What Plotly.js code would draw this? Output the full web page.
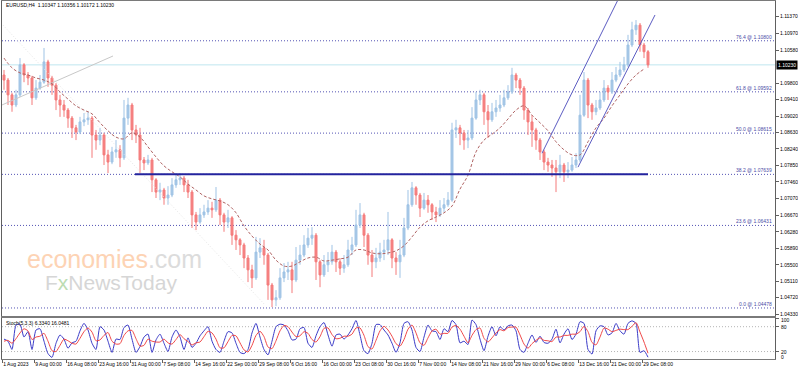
<!DOCTYPE html>
<html><head><meta charset="utf-8">
<script src="https://cdn.plot.ly/plotly-3.0.1.min.js"></script>
<style>html,body{margin:0;padding:0;background:#fff;}#chart{width:798px;height:371px;}</style>
</head><body><div id="chart"></div>
<script>
// EURUSD H4 (each candle here aggregates 4 H4 bars), 1 Aug - 29 Dec 2023
const openP = [
1.0999,1.0987,1.0952,1.0928,1.0952,1.1023,1.0999,1.0992,1.0945,1.0968,
1.0982,1.1030,1.0992,1.0975,1.0940,1.0928,1.0916,1.0897,1.0874,1.0864,
1.0888,1.0893,1.0897,1.0857,1.0845,1.0857,1.0810,1.0793,1.0817,1.0822,
1.0803,1.0897,1.0928,1.0869,1.0857,1.0798,1.0791,1.0798,1.0751,1.0722,
1.0727,1.0708,1.0715,1.0739,1.0751,1.0755,1.0739,1.0722,1.0668,1.0651,
1.0668,1.0675,1.0684,1.0680,1.0703,1.0668,1.0651,1.0661,1.0620,1.0609,
1.0597,1.0566,1.0538,1.0519,1.0580,1.0590,1.0573,1.0502,1.0467,1.0472,
1.0519,1.0533,1.0538,1.0514,1.0561,1.0573,1.0597,1.0613,1.0620,1.0557,
1.0526,1.0550,1.0557,1.0580,1.0557,1.0542,1.0550,1.0585,1.0597,1.0644,
1.0668,1.0620,1.0573,1.0557,1.0566,1.0580,1.0585,1.0609,1.0566,1.0557,
1.0573,1.0637,1.0692,1.0732,1.0715,1.0684,1.0703,1.0692,1.0675,1.0668,
1.0684,1.0692,1.0703,1.0869,1.0874,1.0862,1.0845,1.0850,1.0897,1.0940,
1.0952,1.0912,1.0893,1.0912,1.0921,1.0928,1.0945,1.0959,1.0999,1.0987,
1.0968,1.0916,1.0888,1.0869,1.0845,1.0817,1.0793,1.0786,1.0779,1.0770,
1.0786,1.0770,1.0774,1.0786,1.0798,1.0904,1.0987,1.0928,1.0912,1.0921,
1.0940,1.0968,1.0959,1.0987,1.0999,1.1011,1.1023,1.1070,1.1106,1.1117,
1.1070,1.1054];
const highP = [
1.1011,1.0992,1.0957,1.0964,1.1039,1.1027,1.1006,1.0997,1.0987,1.0999,
1.1063,1.1035,1.0997,1.0980,1.0952,1.0940,1.0921,1.0902,1.0881,1.0900,
1.0909,1.0912,1.0902,1.0869,1.0874,1.0862,1.0822,1.0829,1.0845,1.0833,
1.0940,1.0945,1.0933,1.0881,1.0874,1.0805,1.0810,1.0803,1.0755,1.0744,
1.0732,1.0736,1.0755,1.0767,1.0767,1.0760,1.0751,1.0727,1.0675,1.0684,
1.0692,1.0703,1.0699,1.0734,1.0708,1.0673,1.0680,1.0665,1.0632,1.0613,
1.0602,1.0573,1.0550,1.0616,1.0613,1.0609,1.0578,1.0507,1.0490,1.0542,
1.0554,1.0557,1.0557,1.0592,1.0597,1.0620,1.0637,1.0639,1.0625,1.0561,
1.0573,1.0580,1.0597,1.0585,1.0566,1.0573,1.0609,1.0616,1.0680,1.0696,
1.0673,1.0625,1.0585,1.0590,1.0602,1.0609,1.0675,1.0613,1.0580,1.0609,
1.0661,1.0727,1.0746,1.0736,1.0720,1.0720,1.0715,1.0696,1.0687,1.0703,
1.0708,1.0722,1.0886,1.0893,1.0881,1.0869,1.0869,1.0923,1.0959,1.0964,
1.0957,1.0928,1.0933,1.0940,1.0952,1.0964,1.0975,1.1016,1.1004,1.0992,
1.0973,1.0921,1.0904,1.0874,1.0850,1.0822,1.0803,1.0798,1.0798,1.0810,
1.0791,1.0793,1.0805,1.0814,1.0952,1.1006,1.0992,1.0933,1.0940,1.0959,
1.0987,1.0975,1.1006,1.1018,1.1030,1.1042,1.1094,1.1125,1.1129,1.1122,
1.1075,1.1058];
const lowP = [
1.0964,1.0928,1.0912,1.0923,1.0947,1.0982,1.0975,1.0928,1.0940,1.0964,
1.0978,1.0971,1.0952,1.0916,1.0900,1.0900,1.0874,1.0850,1.0845,1.0859,
1.0878,1.0881,1.0803,1.0822,1.0833,1.0786,1.0767,1.0788,1.0803,1.0781,
1.0798,1.0881,1.0845,1.0838,1.0767,1.0774,1.0786,1.0722,1.0708,1.0703,
1.0692,1.0692,1.0710,1.0732,1.0739,1.0722,1.0708,1.0637,1.0632,1.0647,
1.0661,1.0668,1.0661,1.0675,1.0644,1.0628,1.0637,1.0597,1.0585,1.0573,
1.0542,1.0509,1.0495,1.0514,1.0566,1.0550,1.0467,1.0450,1.0452,1.0467,
1.0509,1.0514,1.0483,1.0509,1.0550,1.0568,1.0590,1.0597,1.0514,1.0497,
1.0521,1.0533,1.0550,1.0533,1.0526,1.0531,1.0545,1.0573,1.0592,1.0637,
1.0592,1.0550,1.0521,1.0542,1.0557,1.0561,1.0573,1.0542,1.0526,1.0519,
1.0568,1.0632,1.0687,1.0692,1.0663,1.0680,1.0673,1.0656,1.0651,1.0663,
1.0675,1.0687,1.0699,1.0850,1.0833,1.0822,1.0826,1.0845,1.0893,1.0928,
1.0881,1.0850,1.0888,1.0900,1.0912,1.0923,1.0940,1.0954,1.0968,1.0952,
1.0893,1.0857,1.0829,1.0822,1.0798,1.0774,1.0770,1.0758,1.0722,1.0755,
1.0746,1.0755,1.0770,1.0779,1.0793,1.0900,1.0897,1.0893,1.0904,1.0916,
1.0935,1.0940,1.0954,1.0982,1.0994,1.1006,1.1018,1.1065,1.1094,1.1054,
1.1039,1.1016];
const closeP = [
1.0987,1.0952,1.0928,1.0952,1.1023,1.0999,1.0992,1.0945,1.0968,1.0982,
1.1030,1.0992,1.0975,1.0940,1.0928,1.0916,1.0897,1.0874,1.0864,1.0888,
1.0893,1.0897,1.0857,1.0845,1.0857,1.0810,1.0793,1.0817,1.0822,1.0803,
1.0897,1.0928,1.0869,1.0857,1.0798,1.0791,1.0798,1.0751,1.0722,1.0727,
1.0708,1.0715,1.0739,1.0751,1.0755,1.0739,1.0722,1.0668,1.0651,1.0668,
1.0675,1.0684,1.0680,1.0703,1.0668,1.0651,1.0661,1.0620,1.0609,1.0597,
1.0566,1.0538,1.0519,1.0580,1.0590,1.0573,1.0502,1.0467,1.0472,1.0519,
1.0533,1.0538,1.0514,1.0561,1.0573,1.0597,1.0613,1.0620,1.0557,1.0526,
1.0550,1.0557,1.0580,1.0557,1.0542,1.0550,1.0585,1.0597,1.0644,1.0668,
1.0620,1.0573,1.0557,1.0566,1.0580,1.0585,1.0609,1.0566,1.0557,1.0573,
1.0637,1.0692,1.0732,1.0715,1.0684,1.0703,1.0692,1.0675,1.0668,1.0684,
1.0692,1.0703,1.0869,1.0874,1.0862,1.0845,1.0850,1.0897,1.0940,1.0952,
1.0912,1.0893,1.0912,1.0921,1.0928,1.0945,1.0959,1.0999,1.0987,1.0968,
1.0916,1.0888,1.0869,1.0845,1.0817,1.0793,1.0786,1.0779,1.0770,1.0786,
1.0770,1.0774,1.0786,1.0798,1.0904,1.0987,1.0928,1.0912,1.0921,1.0940,
1.0968,1.0959,1.0987,1.0999,1.1011,1.1023,1.1070,1.1106,1.1117,1.1070,
1.1054,1.1023];
// moving average, one value every 2 candles
const maPrices = [
1.1039,1.1016,1.1004,1.0999,1.0992,1.0987,1.0978,1.0959,1.0942,1.0926,
1.0916,1.0907,1.0886,1.0867,1.0852,1.0848,1.0862,1.0852,1.0829,1.0805,
1.0784,1.0770,1.0758,1.0741,1.0727,1.0713,1.0706,1.0701,1.0692,1.0673,
1.0642,1.0618,1.0599,1.0585,1.0561,1.0547,1.0547,1.0557,1.0566,1.0568,
1.0559,1.0561,1.0564,1.0568,1.0585,1.0585,1.0578,1.0576,1.0578,1.0583,
1.0595,1.0616,1.0639,1.0654,1.0663,1.0673,1.0689,1.0729,1.0762,1.0817,
1.0845,1.0859,1.0874,1.0895,1.0916,1.0926,1.0904,1.0886,1.0867,1.0841,
1.0822,1.0810,1.0810,1.0841,1.0874,1.0897,1.0926,1.0952,1.0978,1.0999,
1.1013];
const stochK = [
50,45,25,84,86,55,68,25,72,75, 45,15,6,40,60,50,28,41,45,70,
88,72,40,25,80,72,45,18,50,49, 78,84,50,18,32,55,62,18,48,62,
40,20,55,72,55,25,53,30,40,58, 70,80,45,25,18,45,68,65,40,18,
15,25,65,88,55,25,12,45,80,86, 84,70,48,50,75,78,40,30,58,80,
90,60,33,60,62,50,60,75,95,60, 22,15,40,85,85,72,60,40,18,41,
88,92,72,30,20,55,84,70,68,49, 75,68,95,85,41,45,37,96,85,50,
22,57,80,58,80,72,82,84,70,25, 18,40,60,42,57,42,40,50,74,41,
62,75,49,62,92,88,25,14,70,82, 80,60,65,88,70,62,88,94,88,18,
22,6.334];
const stochD = [
45,47,40,51,65,75,70,49,55,57, 64,45,22,20,35,50,46,40,38,52,
68,77,67,46,48,59,66,45,38,39, 59,70,71,51,33,35,50,45,43,43,
50,41,38,49,61,51,44,36,41,43, 56,69,65,50,29,29,44,59,58,41,
24,19,35,59,69,56,31,27,46,70, 83,80,67,56,58,68,64,49,43,56,
76,77,61,51,52,57,57,62,77,77, 59,32,26,47,70,81,72,57,39,33,
49,74,84,65,41,35,53,70,74,62, 64,64,79,83,74,57,41,59,73,77,
52,43,53,65,73,70,78,79,79,60, 38,28,39,47,53,47,46,44,55,55,
59,59,62,62,68,81,68,42,36,55, 77,74,68,71,74,73,73,81,90,67,
43,16.0481];
const priceTicks = [1.11370,1.10970,1.10580,1.09800,1.09410,1.09020,1.08630,1.08240,
  1.07850,1.07460,1.07070,1.06670,1.06280,1.05890,1.05500,1.05110,1.04720,1.04330];
const dateLabels = ['1 Aug 2023','9 Aug 00:00','16 Aug 08:00','23 Aug 16:00','31 Aug 00:00',
  '7 Sep 08:00','14 Sep 16:00','22 Sep 00:00','29 Sep 08:00','6 Oct 16:00','16 Oct 00:00',
  '23 Oct 08:00','30 Oct 16:00','7 Nov 00:00','14 Nov 08:00','21 Nov 16:00','29 Nov 00:00',
  '6 Dec 08:00','13 Dec 16:00','21 Dec 00:00','29 Dec 08:00'];
const fibLevels = [76.4, 61.8, 50.0, 38.2, 23.6, 0.0];
const fibPrices = [1.10800, 1.09592, 1.08615, 1.07639, 1.06431, 1.04478];
const bidPrice = 1.10230;
const headerValues = ['1.10347','1.10356','1.10172','1.10230'];
const stochLabels = ['100', '80', '20', '0'];
// drawn objects: [bar index, price] endpoints
const grayLineBars = [-1, 27.25], grayLinePrices = [1.0926, 1.1044];
const faintLineBars = [-0.25, 65.25], faintLinePrices = [1.1117, 1.0455];
const channelUpBars = [134.5, 153.5], channelUpPrices = [1.0814, 1.1177];
const channelLowBars = [143.5, 162.75], channelLowPrices = [1.0781, 1.1141];
const fibLineBars = [32.75, 161], fibLinePrices = [1.07639, 1.07639];

const bars = closeP.map((_, i) => i);
const maBars = maPrices.map((_, j) => 2 * j);
const xRange = [-0.5, 192.75];
const FONT = 'Liberation Sans, Arial, sans-serif';
const DOT = '1px,2px';

const traces = [
  {type:'scatter', mode:'lines', x: faintLineBars, y: faintLinePrices, xaxis:'x', yaxis:'y',
   line:{color:'#e6e6e6', width:1, dash:DOT}, hoverinfo:'skip'},
  {type:'scatter', mode:'lines', x: grayLineBars, y: grayLinePrices, xaxis:'x', yaxis:'y',
   line:{color:'#c8c8c8', width:1}, hoverinfo:'skip'},
  {type:'candlestick', x: bars, open: openP, high: highP, low: lowP, close: closeP,
   xaxis:'x', yaxis:'y', whiskerwidth: 0,
   increasing:{line:{color:'#9fc3e5', width:1}, fillcolor:'#a9c9e8'},
   decreasing:{line:{color:'#f47a7a', width:1}, fillcolor:'#f68686'}, hoverinfo:'skip'},
  {type:'scatter', mode:'lines', x: maBars, y: maPrices, xaxis:'x', yaxis:'y',
   line:{color:'#b06464', width:1, dash:'3px,2px', shape:'spline'}, hoverinfo:'skip'},
  {type:'scatter', mode:'lines', x: fibLineBars, y: fibLinePrices, xaxis:'x', yaxis:'y',
   line:{color:'#24249e', width:2}, hoverinfo:'skip'},
  {type:'scatter', mode:'lines', x: channelUpBars, y: channelUpPrices, xaxis:'x', yaxis:'y',
   line:{color:'#5c5cc2', width:1}, hoverinfo:'skip'},
  {type:'scatter', mode:'lines', x: channelLowBars, y: channelLowPrices, xaxis:'x', yaxis:'y',
   line:{color:'#5c5cc2', width:1}, hoverinfo:'skip'},
  {type:'scatter', mode:'lines', x: bars, y: stochK, xaxis:'x2', yaxis:'y2',
   line:{color:'#3a3ac8', width:1, shape:'spline', smoothing:0.6}, hoverinfo:'skip'},
  {type:'scatter', mode:'lines', x: bars, y: stochD, xaxis:'x2', yaxis:'y2',
   line:{color:'#f04848', width:1, shape:'spline', smoothing:0.6}, hoverinfo:'skip'}
];

const shapes = [];
fibPrices.forEach(p => shapes.push({type:'line', xref:'paper', x0:0, x1:1, yref:'y', y0:p, y1:p,
  line:{color:'#5454b4', width:1, dash:DOT}, layer:'below'}));
shapes.push({type:'line', xref:'paper', x0:0, x1:1, yref:'y', y0:bidPrice, y1:bidPrice,
  line:{color:'#bfe6ef', width:1}, layer:'below'});
[80, 20].forEach(v => shapes.push({type:'line', xref:'paper', x0:0, x1:1, yref:'y2', y0:v, y1:v,
  line:{color:'#b4b4b4', width:1, dash:DOT}, layer:'below'}));

const annotations = [];
annotations.push({xref:'paper', yref:'paper', x:0.002, y:0.989, xanchor:'left', yanchor:'middle',
  text:'EURUSD,H4  ' + headerValues.join(' '), showarrow:false, font:{family:FONT, size:5, color:'#000'}});
annotations.push({xref:'paper', yref:'y2 domain', x:0.002, y:0.88, xanchor:'left', yanchor:'middle',
  text:'Stoch(5,3,3) ' + stochK[stochK.length-1].toFixed(4) + ' ' + stochD[stochD.length-1].toFixed(4),
  showarrow:false, font:{family:FONT, size:5, color:'#000'}});
fibLevels.forEach((lv, i) => annotations.push({xref:'paper', yref:'y', x:0.999, y:fibPrices[i],
  xanchor:'right', yanchor:'bottom', yshift:-1, text: lv.toFixed(1) + ' @ ' + fibPrices[i].toFixed(5),
  showarrow:false, font:{family:FONT, size:5, color:'#4a4aa6'}}));
annotations.push({xref:'paper', yref:'y', x:1, y:bidPrice, xanchor:'left', yanchor:'middle', xshift:1,
  text: bidPrice.toFixed(5), showarrow:false, bgcolor:'#000', borderpad:1,
  font:{family:FONT, size:5, color:'#fff'}});
// stochastic scale labels (MT4 keeps 100 and 0 inside the window)
[0.95, 0.78, 0.17, 0.06].forEach((d, i) => annotations.push({xref:'paper', yref:'y2 domain', x:1, y:d,
  xanchor:'left', yanchor:'middle', xshift:4, text: stochLabels[i], showarrow:false,
  font:{family:FONT, size:5, color:'#000'}}));
annotations.push({xref:'paper', yref:'paper', x:0.030, y:0.278, xanchor:'left', yanchor:'middle',
  text:'<span style="color:#fdd3b4">economies</span><span style="color:#dcdcdc">.com</span>',
  showarrow:false, font:{family:FONT, size:25}});
annotations.push({xref:'paper', yref:'paper', x:0.053, y:0.214, xanchor:'left', yanchor:'middle',
  text:'<span style="color:#d6d6d6">F</span><span style="color:#bcdcb2">x</span><span style="color:#d6d6d6">NewsToday</span>',
  showarrow:false, font:{family:FONT, size:21}});

const layout = {
  width:798, height:371, margin:{l:2, r:23, t:1, b:12},
  paper_bgcolor:'#fff', plot_bgcolor:'#fff', showlegend:false, hovermode:false,
  font:{family:FONT, size:5, color:'#000'},
  xaxis:{domain:[0,1], range:xRange, anchor:'y', showticklabels:false, ticks:'', showgrid:false,
    zeroline:false, showline:true, mirror:true, linecolor:'#7a7a7a', linewidth:1,
    rangeslider:{visible:false}, fixedrange:true},
  yaxis:{domain:[0.12011,1], range:[1.04288,1.11741], side:'right', anchor:'x',
    tickvals:priceTicks, ticktext:priceTicks.map(v => v.toFixed(5)), ticks:'outside', ticklen:3,
    tickcolor:'#606060', tickfont:{size:5, family:FONT}, showgrid:false, zeroline:false,
    showline:true, mirror:true, linecolor:'#606060', linewidth:1, fixedrange:true},
  xaxis2:{domain:[0,1], range:xRange, anchor:'y2',
    tickvals:dateLabels.map((_, i) => i * 8 - 0.45), ticktext:dateLabels, tickangle:0,
    ticks:'outside', ticklen:3, tickcolor:'#606060', ticklabelposition:'outside right',
    tickfont:{size:5, family:FONT}, showgrid:false, zeroline:false, showline:true, mirror:true,
    linecolor:'#7a7a7a', linewidth:1, fixedrange:true},
  yaxis2:{domain:[0,0.11453], range:[2,101], side:'right', anchor:'x2',
    tickvals:[100,80,20], ticktext:['','',''], ticks:'outside', ticklen:3, tickcolor:'#606060',
    showgrid:false, zeroline:false, showline:true, mirror:true,
    linecolor:'#606060', linewidth:1, fixedrange:true},
  shapes: shapes, annotations: annotations
};

Plotly.newPlot('chart', traces, layout, {staticPlot:true, displayModeBar:false});
</script>
</body></html>
